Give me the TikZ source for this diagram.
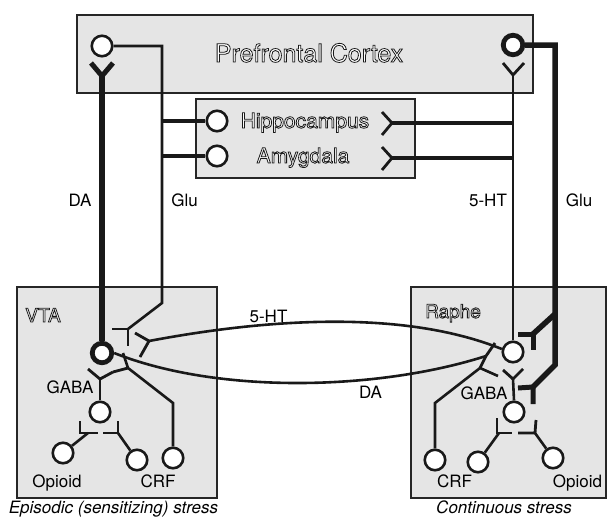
\documentclass[tikz,border=0pt]{standalone}
\usepackage{fontspec}
\setmainfont{TeX Gyre Heros}
\newcommand{\hollow}[1]{{\color{white}\special{pdf:literal direct 0.1 G 0.8 w 2 Tr}#1\special{pdf:literal direct 0 Tr}}}

\begin{document}
\begin{tikzpicture}[
    x=1pt, y=-1pt,
    region/.style={draw=black!85, fill=black!10, line width=1.8pt, inner sep=0pt},
    % neurons are open circles, projection neurons get a bold ring
    cell/.style={circle, draw=black!90, fill=white, line width=2.6pt,
        minimum size=20.5pt, inner sep=0pt},
    boldcell/.style={cell, line width=4.8pt, minimum size=19.5pt},
    axon/.style={draw=black!90, line width=2.6pt},
    thickaxon/.style={draw=black!90, line width=6pt},
    synapse/.style={draw=black!90, line width=2.8pt},
    tag/.style={font=\fontsize{17}{20}\selectfont, inner sep=0pt, anchor=base},
    areaname/.style={font=\fontsize{#1}{#1}\selectfont, inner sep=0pt, anchor=base},
    caption/.style={font=\fontsize{17}{20}\selectfont\itshape, inner sep=0pt, anchor=base},
    ]
    \useasboundingbox (0,0) rectangle (609,522);

    % brain areas
    \node[region, minimum width=456pt, minimum height=78pt] (pfc) at (305,54) {};
    \node[region, minimum width=219pt, minimum height=79pt] (limbic) at (305.5,138.5) {};
    \node[region, minimum width=200pt, minimum height=211pt] (vta) at (117,392.5) {};
    \node[region, minimum width=195pt, minimum height=211pt] (raphe) at (508.5,392.5) {};

    \node[areaname=25] (pfcname) at (309,62) {\hollow{Prefrontal Cortex}};
    \node[areaname=21] (hipname) at (305,128) {\hollow{Hippocampus}};
    \node[areaname=21] (amyname) at (303,163) {\hollow{Amygdala}};
    \node[areaname=19] (vtaname) at (43,322) {\hollow{VTA}};
    \node[areaname=19] (raphename) at (453,318) {\hollow{Raphe}};

    % neurons
    \node[cell] (pfcL) at (102,46) {};
    \node[boldcell] (pfcR) at (513,45) {};
    \node[cell] (hip) at (217,121) {};
    \node[cell] (amy) at (217,156) {};
    \node[boldcell] (da) at (102,353) {};
    \node[cell] (vgaba) at (100,412) {};
    \node[cell] (vopi) at (63,453) {};
    \node[cell] (vmid) at (137,460) {};
    \node[cell] (vcrf) at (173,458) {};
    \node[cell] (ht) at (513,352) {};
    \node[cell] (rgaba) at (514,412) {};
    \node[cell] (rcrf) at (435,460) {};
    \node[cell] (rmid) at (478,462) {};
    \node[cell] (ropi) at (553,458) {};

    % bends and terminals
    \coordinate (daY) at (102,76);
    \coordinate (htY) at (513,75);
    \coordinate (gluA) at (162,46);
    \coordinate (gluB) at (162,303);
    \coordinate (gluT) at (128,329);
    \coordinate (hipR) at (392,123);
    \coordinate (amyR) at (392,158);
    \coordinate (gluC) at (555,45);
    \coordinate (gluD) at (555,314);
    \coordinate (gluE) at (555,365);
    \coordinate (gluT1) at (533,334);
    \coordinate (gluT2) at (533,387);
    \coordinate (htT) at (149,341);
    \coordinate (daT) at (486,356);
    \coordinate (vcrfA) at (173,403);
    \coordinate (vcrfT) at (128,368);
    \coordinate (rcrfA) at (435,403);
    \coordinate (rcrfT) at (480,368);
    \coordinate (vgabaT) at (100,379);
    \coordinate (rgabaT) at (513,379);
    \coordinate (vopiT) at (88,433);
    \coordinate (vmidT) at (118,433);
    \coordinate (rmidT) at (499,433);
    \coordinate (ropiT) at (535,433);

    % VTA -> PFC (DA)
    \draw[thickaxon] (da.north) -- (daY);
    \draw[synapse, line width=5pt] (daY) ++(-11,-13) -- (daY) -- ++(11,-13);
    % Raphe -> PFC and limbic (5-HT)
    \draw[axon] (ht.north) -- (htY);
    \draw[synapse] (htY) ++(-10,-12) -- (htY) -- ++(11,-12);
    \draw[axon, line width=4pt] (hipR) -- (htY |- hipR);
    \draw[synapse] (hipR) ++(-10,-11) -- (hipR) -- ++(-10,12);
    \draw[axon, line width=4pt] (amyR) -- (htY |- amyR);
    \draw[synapse] (amyR) ++(-10,-11) -- (amyR) -- ++(-10,12);

    % PFC -> VTA (Glu)
    \draw[axon] (pfcL.east) -- (gluA) -- (gluB) -- (gluT);
    \draw[synapse] (gluT) ++(-16,0) -- (gluT) -- ++(0,17);
    \draw[axon, line width=4pt] (gluA |- hip) -- (hip.west);
    \draw[axon, line width=4pt] (gluA |- amy) -- (amy.west);

    % PFC -> Raphe (Glu)
    \draw[thickaxon, line width=5.5pt] (pfcR.east) -- (gluC) -- (gluE) -- (gluT2);
    \draw[thickaxon, line width=5.5pt] (gluD) -- (gluT1);
    \draw[thickaxon, line width=5pt] (gluT1) ++(-15,0) -- (gluT1) -- ++(0,16);
    \draw[thickaxon, line width=5pt] (gluT2) ++(-15,1) -- (gluT2) -- ++(0,17);

    % VTA <-> Raphe
    \draw[axon] (ht.165) .. controls (400,308) and (260,320) .. (htT);
    \draw[synapse] (htT) -- ++(-14,-8) (htT) -- ++(-9,16);
    \draw[axon] (da.east) .. controls (220,395) and (380,390) .. (daT);
    \draw[synapse] (daT) -- ++(9,-13) (daT) -- (rcrfT);

    % local circuit, VTA
    \draw[axon] (vcrf.north) -- (vcrfA) -- (vcrfT) -- ++(-5,-15);
    \draw[synapse] (vcrfT) -- ++(-15,4);
    \draw[axon] (vgaba.north) -- (vgabaT);
    \draw[synapse] (vgabaT) ++(-12,-10) -- (vgabaT) -- ++(13,-7);
    \draw[axon] (vopi) -- (vopiT);
    \draw[synapse] (vopiT) ++(-8,-12) -- ++(0,12) -- ++(18,0);
    \draw[axon] (vmid) -- (vmidT);
    \draw[synapse] (vmidT) ++(0,-12) -- (vmidT) -- ++(-15,0);

    % local circuit, Raphe
    \draw[axon] (rcrf.north) -- (rcrfA) -- (rcrfT) -- ++(18,8);
    \draw[axon] (rgaba.north) -- (rgabaT);
    \draw[synapse] (rgabaT) ++(-10,-9) -- (rgabaT) -- ++(10,-10);
    \draw[axon] (rmid) -- (rmidT);
    \draw[synapse] (rmidT) ++(-2,-15) -- ++(0,15) -- ++(15,0);
    \draw[axon] (ropi) -- (ropiT);
    \draw[synapse] (ropiT) ++(-17,0) -- (ropiT) -- ++(1,-13);

    % labels
    \node[tag] (tDA) at (80,206) {DA};
    \node[tag] (tGluL) at (184.5,206) {Glu};
    \node[tag] (tHT) at (488,206) {5-HT};
    \node[tag] (tGluR) at (579,206) {Glu};
    \node[tag] (tHTmid) at (268.5,322) {5-HT};
    \node[tag] (tDAmid) at (370.5,398) {DA};
    \node[tag] (tGabaL) at (70,393) {GABA};
    \node[tag] (tGabaR) at (484,399) {GABA};
    \node[tag] (tOpiL) at (57,487) {Opioid};
    \node[tag] (tCrfL) at (158,487) {CRF};
    \node[tag] (tCrfR) at (454.5,487) {CRF};
    \node[tag] (tOpiR) at (577.5,487) {Opioid};
    \node[caption] (capL) at (113.5,513) {Episodic (sensitizing) stress};
    \node[caption] (capR) at (504,513) {Continuous stress};
\end{tikzpicture}
\end{document}
